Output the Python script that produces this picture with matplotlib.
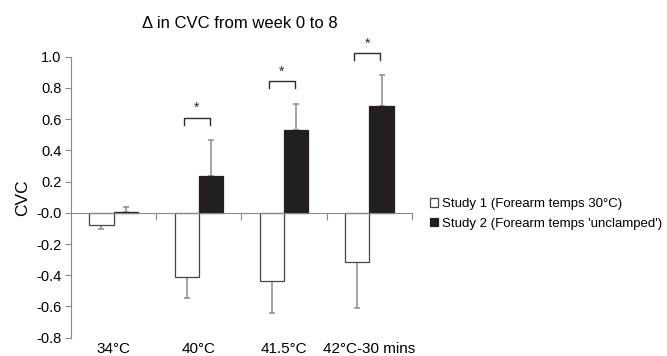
import numpy as np
import matplotlib
matplotlib.use("Agg")
import matplotlib.pyplot as plt

plt.rcParams['font.family'] = ['Liberation Sans', 'DejaVu Sans']

# valores
categorias = ["34°C", "40°C", "41.5°C", "42°C-30 mins"]
study1 = [-0.075, -0.41, -0.435, -0.315]
study1_err = [0.028, 0.135, 0.205, 0.295]
study2 = [0.005, 0.235, 0.53, 0.685]
study2_err = [0.03, 0.23, 0.17, 0.195]
significativo = [False, True, True, True]

etiquetas = ["Study 1 (Forearm temps 30°C)", "Study 2 (Forearm temps 'unclamped')"]

gris = "#8a8a8a"
oscuro = "#2b2b2b"

fig = plt.figure(figsize=(6.67, 3.56), dpi=100)
ax = fig.add_axes([71 / 667, 1 - 337.7 / 356, (412 - 71) / 667, (337.7 - 56.7) / 356])

x = np.arange(len(categorias))
w = 0.285

b1 = ax.bar(x - w / 2, study1, w, color="white", edgecolor="#444444", linewidth=0.9,
            label=etiquetas[0], zorder=2)
b2 = ax.bar(x + w / 2, study2, w, color="#231f20", edgecolor="#231f20", linewidth=0.9,
            label=etiquetas[1], zorder=2)

# barras de error de un solo lado
ax.errorbar(x - w / 2, study1, yerr=[study1_err, [0] * len(x)], fmt="none",
            ecolor=gris, elinewidth=1.1, capsize=2, capthick=1.1, zorder=1)
ax.errorbar(x + w / 2, study2, yerr=[[0] * len(x), study2_err], fmt="none",
            ecolor=gris, elinewidth=1.1, capsize=2, capthick=1.1, zorder=1)

# corchetes de significancia
for i in range(len(x)):
    if not significativo[i]:
        continue
    top = study2[i] + study2_err[i] + 0.145
    xl = x[i] - 0.18
    xr = x[i] + 0.13
    ax.plot([xl, xl, xr, xr], [top - 0.045, top, top, top - 0.045], color=oscuro, lw=1.0,
            clip_on=False)
    ax.text((xl + xr) / 2, top + 0.06, "*", ha="center", va="center", fontsize=10,
            color=oscuro, clip_on=False)

ax.set_xlim(-0.5, len(x) - 0.5)
ax.set_ylim(-0.8, 1.0)
ax.set_yticks(np.arange(-0.8, 1.01, 0.2))
ax.set_yticklabels([f"{v:.1f}" for v in np.arange(-0.8, 1.01, 0.2)], fontsize=10.5)

ax.spines['top'].set_visible(False)
ax.spines['right'].set_visible(False)
ax.spines['left'].set_color(gris)
ax.spines['bottom'].set_position(('data', 0))
ax.spines['bottom'].set_color(gris)
ax.spines['bottom'].set_zorder(3)
ax.set_xticks(x + 0.5)
ax.set_xticklabels([])
ax.tick_params(axis='x', direction='out', length=5, color=gris, width=0.8)
ax.tick_params(axis='y', direction='out', length=4, color=gris, width=0.8, pad=3)

for i, c in enumerate(categorias):
    ax.annotate(c, (x[i], -0.8), xytext=(0, -3), textcoords="offset points",
                ha="center", va="top", fontsize=11)

ax.set_ylabel("CVC", fontsize=12.5, labelpad=4)
fig.text(240 / 667, 1 - 28.3 / 356, "Δ in CVC from week 0 to 8", ha="center",
         va="baseline", fontsize=12)

fig.legend(handles=[b1, b2], loc="center left", bbox_to_anchor=(430 / 667, 1 - 214 / 356),
           frameon=False, fontsize=9.5, handlelength=0.6, handleheight=0.6,
           handletextpad=0.3, labelspacing=0.6, borderpad=0, borderaxespad=0)

fig.savefig("out.png", dpi=100)
